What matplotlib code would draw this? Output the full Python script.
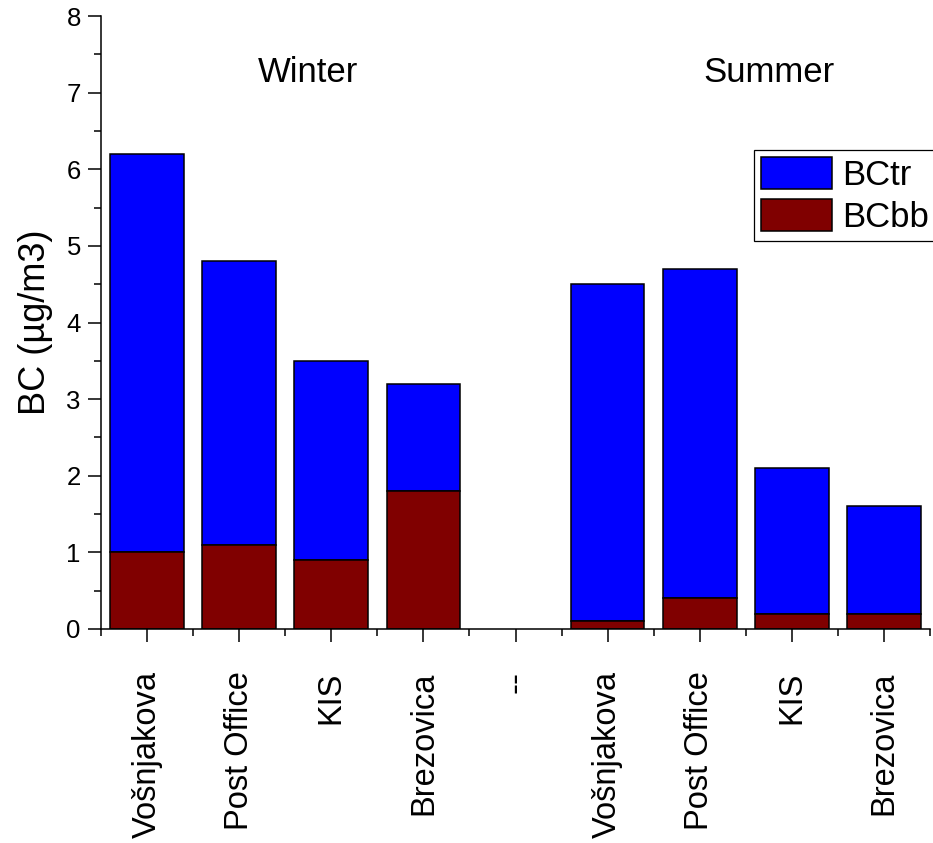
import numpy as np
import matplotlib
matplotlib.use("Agg")
import matplotlib.pyplot as plt
from matplotlib.ticker import MultipleLocator, FixedLocator

plt.rcParams['font.family'] = ['Liberation Sans', 'DejaVu Sans']

categories = ["Vošnjakova", "Post Office", "KIS", "Brezovica", "--",
              "Vošnjakova", "Post Office", "KIS", "Brezovica"]
bc_total = [6.2, 4.8, 3.5, 3.2, np.nan, 4.5, 4.7, 2.1, 1.6]
bc_bb = [1.0, 1.1, 0.9, 1.8, np.nan, 0.1, 0.4, 0.2, 0.2]
season_labels = ["Winter", "Summer"]
season_pos = [1.75, 6.75]

bc_total = np.array(bc_total)
bc_bb = np.array(bc_bb)
bc_tr = bc_total - bc_bb
x = np.arange(len(categories))
valid = ~np.isnan(bc_total)

W, H = 933, 843
fig = plt.figure(figsize=(W / 100, H / 100), dpi=100)
ax = fig.add_axes([101 / W, 1 - 629 / H, (930 - 101) / W, (629 - 16) / H])

lw = 1.1
ax.bar(x[valid], bc_tr[valid], bottom=bc_bb[valid], width=0.8,
       color='#0000FF', edgecolor='black', linewidth=lw, label='BCtr')
ax.bar(x[valid], bc_bb[valid], width=0.8,
       color='#800000', edgecolor='black', linewidth=lw, label='BCbb')

ax.set_xlim(-0.5, len(categories) - 0.5)
ax.set_ylim(0, 8)
ax.set_xticks(x)
ax.set_xticklabels(categories, rotation=90, fontsize=23.5)
ax.xaxis.set_minor_locator(FixedLocator(np.arange(-0.5, len(categories), 1.0)))
ax.yaxis.set_major_locator(MultipleLocator(1))
ax.yaxis.set_minor_locator(MultipleLocator(0.5))
ax.tick_params(axis='y', labelsize=18.5, pad=5)
ax.tick_params(axis='x', which='major', pad=21)
ax.tick_params(which='major', direction='out', length=9.5, width=lw)
ax.tick_params(which='minor', direction='out', length=4.8, width=lw)

for side in ['top', 'right']:
    ax.spines[side].set_visible(False)
for side in ['left', 'bottom']:
    ax.spines[side].set_linewidth(lw)

ax.set_ylabel("BC (µg/m3)", fontsize=26, labelpad=10)

for lab, pos in zip(season_labels, season_pos):
    ax.text(pos, 7.26, lab, ha='center', va='center', fontsize=25)

leg = ax.legend(loc='upper left', bbox_to_anchor=(754 / W, 1 - 150 / H),
                bbox_transform=fig.transFigure, fontsize=25, frameon=True,
                fancybox=False, framealpha=1, edgecolor='black',
                handlelength=2.05, handleheight=1.04, labelspacing=0.2,
                borderpad=0.2, handletextpad=0.3, borderaxespad=0)
leg.get_frame().set_linewidth(0.9)

fig.savefig("out.png", dpi=100)
